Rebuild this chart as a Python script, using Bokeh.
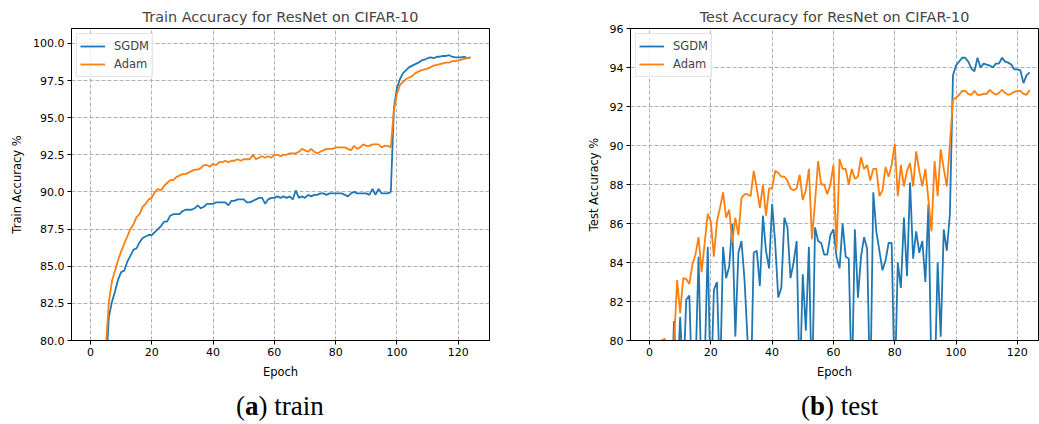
from bokeh.plotting import figure
from bokeh.layouts import column, row
from bokeh.models import Range1d, FixedTicker, NumeralTickFormatter, Div
from bokeh.embed import file_html
from bokeh.resources import INLINE

epochs = list(range(125))

sgdm_train = [38.0, 55.0, 63.0, 70.0, 75.0, 78.0, 81.6, 82.6, 83.3, 84.1,
              84.6, 84.7, 85.3, 85.7, 86.1, 86.2, 86.6, 86.9, 87.0, 87.1,
              87.1, 87.3, 87.5, 87.7, 88.0, 88.0, 88.4, 88.5, 88.5, 88.5,
              88.7, 88.8, 88.8, 88.8, 88.9, 89.1, 88.9, 89.0, 89.2, 89.2,
              89.2, 89.3, 89.3, 89.3, 89.3, 89.1, 89.4, 89.4, 89.5, 89.5,
              89.5, 89.3, 89.3, 89.4, 89.5, 89.6, 89.6, 89.2, 89.5, 89.6,
              89.6, 89.7, 89.6, 89.7, 89.6, 89.7, 89.5, 90.1, 89.6, 89.7,
              89.6, 89.8, 89.7, 89.8, 89.8, 89.9, 89.9, 89.8, 89.9, 89.9,
              89.9, 89.9, 89.9, 89.8, 89.7, 89.9, 90.0, 89.9, 89.9, 89.9,
              89.9, 89.8, 90.2, 89.8, 90.2, 89.9, 89.9, 89.9, 90.0, 95.6,
              97.0, 97.6, 98.0, 98.2, 98.4, 98.5, 98.6, 98.7, 98.85, 98.9,
              99.0, 99.05, 99.0, 99.1, 99.1, 99.15, 99.15, 99.2, 99.1, 99.05,
              99.05, 99.05, 99.1, 99.0, 99.05]

adam_train = [45.0, 62.0, 68.0, 72.5, 76.0, 79.5, 82.6, 84.0, 84.7, 85.4,
              86.0, 86.5, 87.0, 87.5, 87.8, 88.3, 88.5, 89.0, 89.2, 89.5,
              89.6, 90.0, 90.2, 90.1, 90.4, 90.6, 90.8, 90.8, 91.0, 91.1,
              91.2, 91.2, 91.3, 91.4, 91.5, 91.5, 91.6, 91.8, 91.8, 91.7,
              91.9, 91.8, 92.0, 92.0, 92.1, 92.0, 92.1, 92.1, 92.2, 92.1,
              92.2, 92.2, 92.2, 92.5, 92.2, 92.3, 92.4, 92.3, 92.4, 92.3,
              92.5, 92.5, 92.4, 92.5, 92.5, 92.6, 92.6, 92.6, 92.7, 92.9,
              92.8, 92.7, 92.9, 92.7, 92.6, 92.7, 92.8, 92.9, 92.9, 92.9,
              93.0, 93.0, 93.0, 93.0, 92.9, 92.8, 93.1, 92.9, 93.0, 93.2,
              93.1, 93.1, 93.2, 93.2, 93.2, 93.0, 93.1, 93.1, 93.0, 95.5,
              96.6, 97.2, 97.4, 97.6, 97.7, 97.8, 98.0, 98.1, 98.2, 98.25,
              98.3, 98.4, 98.5, 98.55, 98.6, 98.65, 98.7, 98.7, 98.8, 98.8,
              98.85, 98.9, 98.95, 99.0, 99.05]

sgdm_test = [42.0, 55.0, 63.0, 68.5, 72.0, 75.5, 77.0, 76.5, 81.0, 77.5,
             81.2, 78.0, 82.1, 82.3, 77.0, 78.5, 84.3, 77.5, 78.8, 84.8,
             77.0, 82.6, 83.0, 77.8, 84.8, 83.2, 83.8, 86.0, 80.2, 84.5,
             85.1, 83.1, 80.0, 77.0, 84.5, 84.6, 82.8, 86.4, 84.6, 83.7,
             87.0, 85.0, 82.2, 82.7, 86.3, 85.8, 83.2, 84.0, 85.1, 77.5,
             83.4, 80.5, 84.8, 77.0, 85.8, 85.1, 85.0, 84.4, 84.4, 85.4,
             85.7, 84.3, 83.7, 86.0, 84.3, 84.2, 77.5, 85.7, 82.2, 84.3,
             85.3, 84.7, 77.0, 87.6, 85.6, 84.6, 83.6, 84.1, 85.0, 85.0,
             77.5, 84.0, 82.7, 86.3, 83.3, 88.1, 84.2, 85.6, 84.5, 85.1,
             83.0, 87.0, 78.0, 77.5, 84.0, 80.2, 85.7, 84.6, 86.5, 93.6,
             94.1, 94.3, 94.5, 94.5, 94.3, 93.95, 93.8, 94.5, 94.0, 94.2,
             94.15, 94.1, 94.0, 94.2, 94.2, 94.5, 94.3, 94.25, 94.15, 93.9,
             93.9, 93.85, 93.2, 93.6, 93.75]

adam_test = [48.0, 60.0, 66.0, 76.0, 80.02, 80.08, 79.4, 78.5, 79.8, 83.1,
             81.4, 83.2, 83.15, 82.9, 83.9, 84.4, 85.3, 83.5, 85.0, 86.5,
             86.1, 84.3, 86.1, 86.8, 87.6, 86.3, 86.7, 85.0, 86.3, 85.4,
             87.3, 87.5, 87.5, 87.4, 88.7, 87.8, 86.8, 88.0, 86.4, 87.8,
             87.8, 88.7, 88.6, 88.4, 88.4, 88.2, 87.8, 87.7, 87.8, 88.5,
             87.2, 87.7, 88.8, 85.2, 87.1, 89.2, 88.0, 88.0, 87.5, 88.0,
             89.0, 84.6, 89.3, 88.8, 88.8, 88.0, 88.8, 88.3, 88.4, 89.4,
             88.8, 89.0, 88.2, 88.8, 88.8, 87.4, 87.7, 88.9, 88.4, 89.0,
             90.1, 87.4, 89.0, 87.9, 88.7, 89.1, 87.9, 89.7, 88.7, 87.9,
             88.8, 87.2, 85.6, 89.2, 87.4, 89.8, 88.8, 87.9, 90.1, 92.35,
             92.45, 92.6, 92.8, 92.8, 92.65, 92.6, 92.8, 92.6, 92.6, 92.65,
             92.65, 92.85, 92.7, 92.6, 92.7, 92.85, 92.7, 92.6, 92.65, 92.75,
             92.8, 92.8, 92.65, 92.6, 92.85]

x_ticks = [0, 20, 40, 60, 80, 100, 120]
train_y_ticks = [80.0, 82.5, 85.0, 87.5, 90.0, 92.5, 95.0, 97.5, 100.0]
test_y_ticks = [80, 82, 84, 86, 88, 90, 92, 94, 96]

BLUE = "#1f77b4"
ORANGE = "#ff7f0e"
FONT = "DejaVu Sans"


def make_panel(title, ylabel, sgdm, adam, x_rng, y_rng, yticks, yfmt,
               width, left_border, right_border):
    p = figure(width=width, height=385, output_backend="svg",
               toolbar_location=None,
               x_range=Range1d(*x_rng), y_range=Range1d(*y_rng),
               min_border_left=left_border, min_border_right=right_border,
               min_border_top=28, min_border_bottom=45)
    p.title.text = title
    p.title.text_font = FONT
    p.title.text_font_size = "14.4px"
    p.title.text_font_style = "normal"
    p.title.align = "center"
    p.title.standoff = 7
    p.outline_line_color = "black"
    p.outline_line_width = 1
    p.background_fill_color = "white"
    p.border_fill_color = "white"

    p.line(epochs, sgdm, color=BLUE, line_width=1.8, legend_label="SGDM")
    p.line(epochs, adam, color=ORANGE, line_width=1.8, legend_label="Adam")

    p.xaxis.ticker = FixedTicker(ticks=x_ticks)
    p.yaxis.ticker = FixedTicker(ticks=yticks)
    p.yaxis.formatter = NumeralTickFormatter(format=yfmt)
    for ax in (p.xaxis, p.yaxis):
        ax.minor_tick_line_color = None
        ax.major_tick_in = 0
        ax.major_tick_out = 4
        ax.major_tick_line_color = "black"
        ax.axis_line_color = "black"
        ax.major_label_text_font = FONT
        ax.major_label_text_font_size = "11px"
        ax.major_label_text_color = "black"
        ax.axis_label_text_font = FONT
        ax.axis_label_text_font_size = "11.5px"
        ax.axis_label_text_font_style = "normal"
        ax.axis_label_text_color = "black"
        ax.major_label_standoff = 3
        ax.axis_label_standoff = 6
    p.xaxis.axis_label = "Epoch"
    p.yaxis.axis_label = ylabel

    for g in (p.xgrid, p.ygrid):
        g.grid_line_color = "#b0b0b0"
        g.grid_line_dash = "4 2"
        g.grid_line_width = 1
    p.xgrid.ticker = FixedTicker(ticks=x_ticks)
    p.ygrid.ticker = FixedTicker(ticks=yticks)

    lg = p.legend[0]
    lg.location = "top_left"
    lg.margin = 5
    lg.padding = 3
    lg.spacing = 0
    lg.label_height = 18
    lg.glyph_height = 18
    lg.glyph_width = 25
    lg.label_standoff = 9
    lg.label_text_font = FONT
    lg.label_text_font_size = "11.5px"
    lg.border_line_color = "#cccccc"
    lg.background_fill_alpha = 0.8
    return p


p1 = make_panel("Train Accuracy for ResNet on CIFAR-10", "Train Accuracy %",
                sgdm_train, adam_train, (-6.2, 130.2), (80, 101),
                train_y_ticks, "0.0", 500, 71, 11)
p2 = make_panel("Test Accuracy for ResNet on CIFAR-10", "Test Accuracy %",
                sgdm_test, adam_test, (-6.2, 126.9), (80, 96),
                test_y_ticks, "0", 539, 130, 1)

cap_style = ("font-family:'Liberation Serif',serif;font-size:27px;color:black;"
             "white-space:nowrap;line-height:30px;padding-top:6px;")
d1 = Div(text=f'<div style="{cap_style}margin-left:236px;">(<b>a</b>) train</div>',
         width=500, height=39, margin=(0, 0, 0, 0))
d2 = Div(text=f'<div style="{cap_style}margin-left:301px;">(<b>b</b>) test</div>',
         width=539, height=39, margin=(0, 0, 0, 0))

layout = column(row(p1, p2, spacing=0), row(d1, d2, spacing=0), spacing=0)

with open("out.html", "w") as f:
    f.write(file_html(layout, INLINE))
